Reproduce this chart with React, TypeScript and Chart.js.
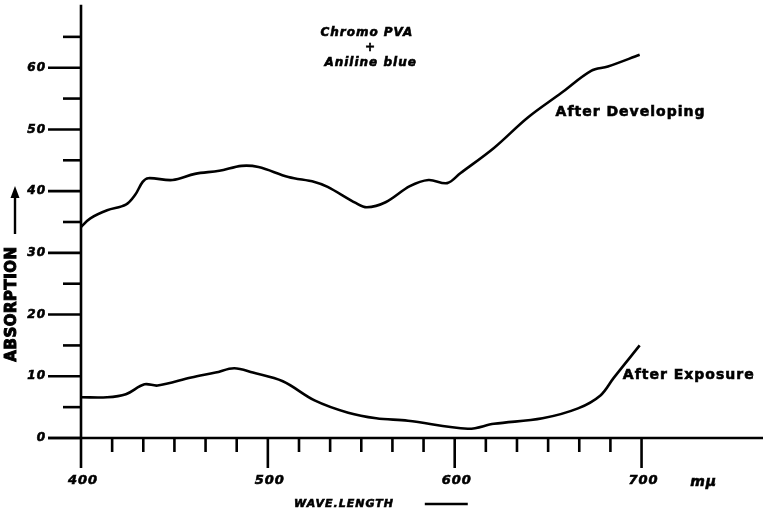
import React, { useEffect, useRef } from "react";
import { Chart, registerables } from "chart.js";

Chart.register(...registerables);

// Absorption spectra of chromated PVA + aniline blue film
const developingWavelength = [400, 405, 414, 424, 429, 433, 436, 449, 461, 474, 486, 495, 511, 525, 532, 547, 553, 563, 576, 586, 596, 603, 621, 639, 657, 673, 682, 699];
const developingValue = [34.2, 35.6, 36.9, 37.8, 39.4, 41.5, 42.1, 41.8, 42.8, 43.3, 44.1, 43.9, 42.3, 41.5, 40.7, 38.1, 37.4, 38.2, 40.8, 41.8, 41.3, 42.9, 47.0, 51.9, 55.9, 59.5, 60.2, 62.1];

const exposureWavelength = [400, 414, 424, 434, 441, 459, 472, 482, 492, 508, 525, 543, 558, 575, 607, 621, 647, 666, 678, 685, 699];
const exposureValue = [6.6, 6.6, 7.1, 8.7, 8.5, 9.8, 10.6, 11.3, 10.6, 9.2, 6.1, 4.1, 3.2, 2.8, 1.5, 2.3, 3.2, 4.8, 6.9, 9.7, 15.0];

const xMajorTicks = [400, 500, 600, 700];
const xTickLabels = ["400", "500", "600", "700"];
const xMinorDivisions = 6;

const yMajorTicks = [0, 10, 20, 30, 40, 50, 60];
const yTickLabels = ["0", "10", "20", "30", "40", "50", "60"];
const yMinorTicks = [5, 15, 25, 35, 45, 55, 65];

const W = 763;
const H = 514;
const INK = "#000";
const HAND = "'DejaVu Sans', sans-serif";

function toPoints(xs: number[], ys: number[]) {
  return xs.map((x, i) => ({ x, y: ys[i] }));
}

// heavy pen lettering: fill plus a thin outline
function inkText(ctx: CanvasRenderingContext2D, text: string, x: number, y: number) {
  ctx.fillText(text, x, y);
  ctx.strokeText(text, x, y);
}

const handAxes = {
  id: "handAxes",
  afterDraw(chart: any) {
    const ctx: CanvasRenderingContext2D = chart.ctx;
    const sx = chart.scales.x;
    const sy = chart.scales.y;
    const px = (v: number) => sx.getPixelForValue(v);
    const py = (v: number) => sy.getPixelForValue(v);
    const x0 = px(400);
    const y0 = py(0);

    const line = (a: number, b: number, c: number, d: number) => {
      ctx.beginPath();
      ctx.moveTo(a, b);
      ctx.lineTo(c, d);
      ctx.stroke();
    };

    ctx.save();
    ctx.strokeStyle = INK;
    ctx.fillStyle = INK;
    ctx.lineWidth = 2.6;
    ctx.lineCap = "butt";

    // axis lines
    line(x0, py(70.2), x0, y0);
    line(x0 - 33, y0, chart.width, y0);

    // y ticks
    yMajorTicks.forEach((v) => line(x0 - 33, py(v), x0, py(v)));
    yMinorTicks.forEach((v) => line(x0 - 18, py(v), x0, py(v)));

    // x ticks
    xMajorTicks.forEach((v) => line(px(v), y0, px(v), y0 + 30));
    const step = (xMajorTicks[1] - xMajorTicks[0]) / xMinorDivisions;
    for (let i = 0; i < xMajorTicks.length - 1; i++) {
      for (let k = 1; k < xMinorDivisions; k++) {
        const v = xMajorTicks[i] + k * step;
        line(px(v), y0, px(v), y0 + 14);
      }
    }

    // tick labels
    ctx.lineWidth = 0.6;
    ctx.font = `bold italic 13px ${HAND}`;
    (ctx as any).letterSpacing = "1px";
    ctx.textAlign = "center";
    ctx.textBaseline = "middle";
    xMajorTicks.forEach((v, i) => inkText(ctx, xTickLabels[i], px(v) + 2, y0 + 43));
    ctx.font = `bold italic 12px ${HAND}`;
    ctx.textAlign = "right";
    yMajorTicks.forEach((v, i) => inkText(ctx, yTickLabels[i], x0 - 35, py(v)));

    // unit and axis title
    ctx.font = `bold italic 14px ${HAND}`;
    ctx.textAlign = "left";
    inkText(ctx, "mμ", px(726), y0 + 44);
    ctx.font = `bold italic 11px ${HAND}`;
    inkText(ctx, "WAVE.LENGTH", px(514), y0 + 66);
    ctx.lineWidth = 2.4;
    line(px(584), y0 + 66, px(607), y0 + 66);

    // vertical title with arrow
    ctx.save();
    ctx.translate(12, 304);
    ctx.rotate(-Math.PI / 2);
    ctx.font = `bold 15px ${HAND}`;
    (ctx as any).letterSpacing = "0.5px";
    ctx.textAlign = "center";
    ctx.textBaseline = "middle";
    ctx.lineWidth = 1;
    inkText(ctx, "ABSORPTION", 0, 0);
    ctx.restore();
    ctx.lineWidth = 2.4;
    line(15, 234, 15, 196);
    ctx.beginPath();
    ctx.moveTo(15, 186);
    ctx.lineTo(10.5, 198);
    ctx.lineTo(19.5, 198);
    ctx.closePath();
    ctx.fill();

    // curve annotations
    ctx.lineWidth = 0.6;
    (ctx as any).letterSpacing = "1px";
    ctx.textBaseline = "middle";
    ctx.textAlign = "center";
    ctx.font = `bold italic 12px ${HAND}`;
    inkText(ctx, "Chromo PVA", px(553), py(65.7));
    inkText(ctx, "+", px(555), py(63.2));
    inkText(ctx, "Aniline blue", px(555), py(60.8));
    ctx.textAlign = "left";
    ctx.font = `bold 14px ${HAND}`;
    inkText(ctx, "After Developing", px(654), py(52.7));
    inkText(ctx, "After Exposure", px(690), py(10.1));

    ctx.restore();
  },
};

export default function App() {
  const ref = useRef<HTMLCanvasElement | null>(null);

  useEffect(() => {
    if (!ref.current) return;
    const chart = new Chart(ref.current, {
      type: "scatter",
      data: {
        datasets: [
          {
            label: "After Developing",
            data: toPoints(developingWavelength, developingValue),
            showLine: true,
            borderColor: INK,
            borderWidth: 2.6,
            pointRadius: 0,
            tension: 0.35,
          },
          {
            label: "After Exposure",
            data: toPoints(exposureWavelength, exposureValue),
            showLine: true,
            borderColor: INK,
            borderWidth: 2.6,
            pointRadius: 0,
            tension: 0.35,
          },
        ],
      },
      options: {
        animation: false,
        responsive: false,
        devicePixelRatio: 1,
        layout: { padding: { left: 81, right: 0, top: 6, bottom: 76 } },
        plugins: { legend: { display: false }, tooltip: { enabled: false } },
        scales: {
          x: { type: "linear", min: 400, max: 765, display: false },
          y: { type: "linear", min: 0, max: 70, display: false },
        },
      },
      plugins: [handAxes],
    });
    return () => chart.destroy();
  }, []);

  return (
    <div style={{ position: "absolute", left: 0, top: 0, width: W, height: H, background: "#fff" }}>
      <canvas ref={ref} width={W} height={H} style={{ display: "block" }} />
    </div>
  );
}
